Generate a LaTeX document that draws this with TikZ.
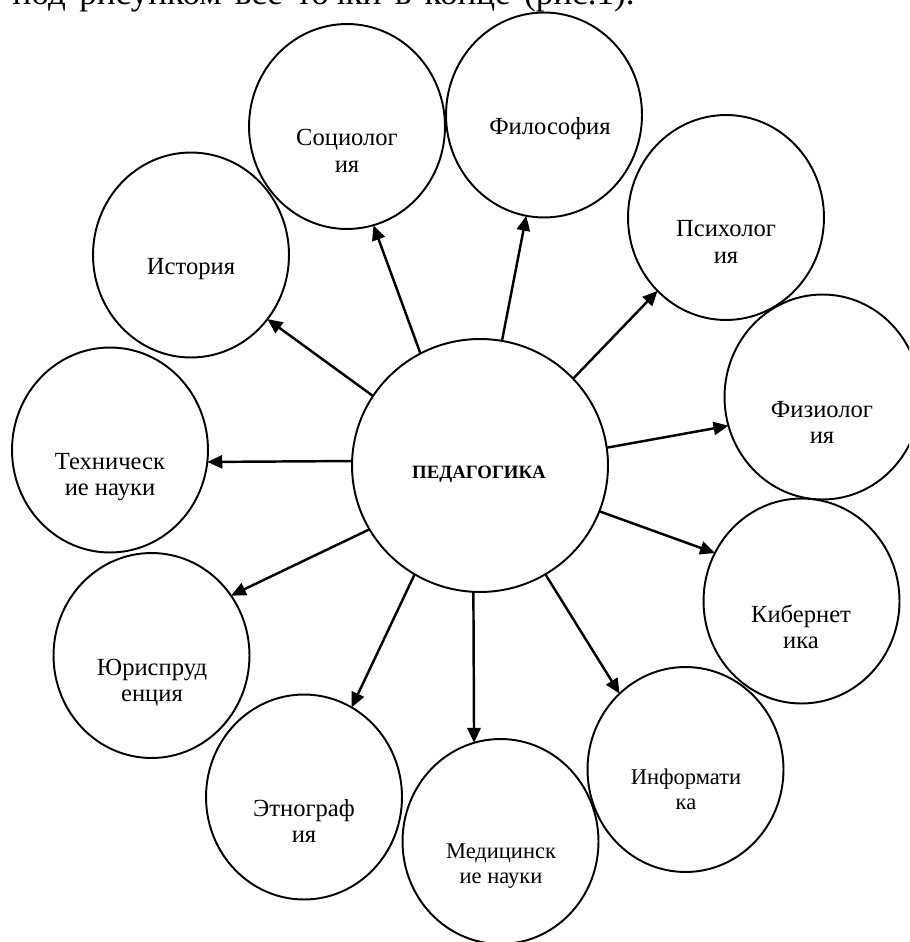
\documentclass[tikz,border=0pt]{standalone}
\usepackage{fontspec}
\setmainfont{Liberation Serif}
\usetikzlibrary{shapes.geometric,arrows.meta}
\newcommand{\mytwol}[2]{\begin{tabular}[t]{@{}c@{}}#1\\#2\end{tabular}}
\tikzset{
  outer/.style={ellipse, draw, line width=1.1pt, minimum width=3.92cm, minimum height=4.1cm, inner sep=0pt, outer sep=0pt},
  centre/.style={ellipse, draw, line width=1.1pt, minimum width=5.12cm, minimum height=5.06cm, inner sep=0pt, outer sep=0pt},
  lbl/.style={anchor=base, inner sep=0pt, font=\fontsize{14}{15.3}\selectfont},
  lblsmall/.style={anchor=base, inner sep=0pt, font=\fontsize{12.8}{14.5}\selectfont},
  arr/.style={line width=1.4pt, -{Triangle[length=8.5pt,width=7.5pt]}}
}
\begin{document}
\begin{tikzpicture}[x=0.02cm, y=-0.02cm]
\useasboundingbox (0,0) rectangle (909,942);
\clip (0,0) rectangle (909,942);
\fill[white] (0,0) rectangle (909,942);

\node[anchor=base east, inner sep=0pt, font=\fontsize{20}{20}\selectfont] (cap) at (635,5) {\spaceskip=0.38em под рисунком все точки в конце (рис.1).};

\node[centre] (ped) at (480,465.5) {};
\node[outer] (soc)  at (347,126.5) {};
\node[outer] (phil) at (544,115) {};
\node[outer] (psy)  at (726,217.5) {};
\node[outer] (hist) at (191,255) {};
\node[outer] (fiz)  at (822.5,397) {};
\node[outer] (tech) at (110,450) {};
\node[outer] (kib)  at (801.5,601) {};
\node[outer] (jur)  at (151.5,655.5) {};
\node[outer] (inf)  at (685.5,769.5) {};
\node[outer] (eth)  at (304,797) {};
\node[outer] (med)  at (500.5,841.5) {};

\node[anchor=base, inner sep=0pt, font=\fontsize{10.7}{12}\selectfont\bfseries] (ped-t) at (479,478) {ПЕДАГОГИКА};
\node[lbl] (soc-t)  at (347,146) {\mytwol{Социолог}{ия}};
\node[lbl] (phil-t) at (550,135) {Философия};
\node[lbl] (psy-t)  at (726,237) {\mytwol{Психолог}{ия}};
\node[lbl] (hist-t) at (191,275) {История};
\node[lbl] (fiz-t)  at (822,417) {\mytwol{Физиолог}{ия}};
\node[lbl] (tech-t) at (110,469) {\mytwol{Техническ}{ие науки}};
\node[lbl] (kib-t)  at (801,622) {\mytwol{Кибернет}{ика}};
\node[lbl] (jur-t)  at (152,675) {\mytwol{Юриспруд}{енция}};
\node[lbl] (eth-t)  at (304,816) {\mytwol{Этнограф}{ия}};
\node[lblsmall] (inf-t) at (686,784) {\mytwol{Информати}{ка}};
\node[lblsmall] (med-t) at (501,858) {\mytwol{Медицинск}{ие науки}};

\draw[arr] (ped.147.6) -- (hist.-40.5);
\draw[arr] (ped.118.6) -- (soc.-75.9);
\draw[arr] (ped.80.9) -- (phil.260.6);
\draw[arr] (ped.43.6) -- (psy.227.5);
\draw[arr] (ped.8.8) -- (fiz.197.5);
\draw[arr] (ped.-21.5) -- (kib.151);
\draw[arr] (ped.-59.7) -- (inf.131.4);
\draw[arr] (ped.-93.2) -- (med.105);
\draw[arr] (ped.239.7) -- (eth.62.9);
\draw[arr] (ped.210.3) -- (jur.37.3);
\draw[arr] (ped.178.4) -- (tech.-7.6);
\end{tikzpicture}
\end{document}
